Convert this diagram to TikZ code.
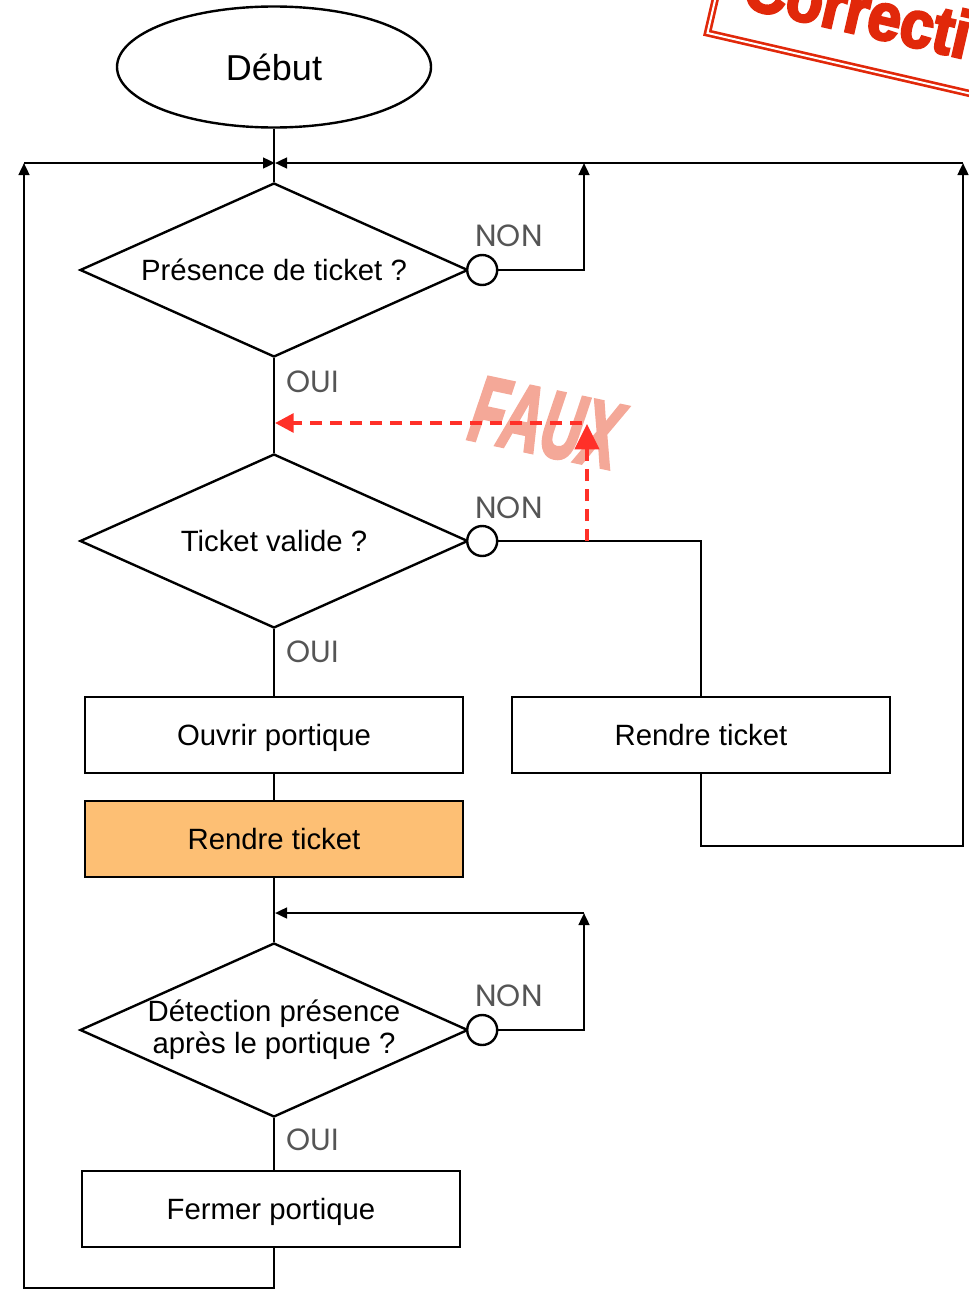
\documentclass[tikz,border=0pt]{standalone}
\usepackage{fontspec}
\setmainfont{Liberation Sans}
\newfontfamily\reponsefont{Poppins}
\newfontfamily\grasfont{Liberation Sans}[FakeBold=4]
\usetikzlibrary{shapes.geometric,positioning,arrows.meta}

\definecolor{orangeclair}{RGB}{253,191,116}
\definecolor{rougefaux}{RGB}{255,48,40}
\definecolor{saumon}{RGB}{244,168,152}
\definecolor{rougetampon}{RGB}{225,40,10}
\definecolor{grisreponse}{RGB}{85,85,85}

\begin{document}
\begin{tikzpicture}[x=0.75pt,y=-0.75pt,
            line width=1.8pt,
            every node/.style={font=\fontsize{22pt}{24pt}\selectfont},
            debutfin/.style={draw,ellipse,minimum width=235.5pt,minimum height=90.75pt},
            test/.style={draw,diamond,aspect=2.23,inner sep=0pt,minimum width=291pt,minimum height=130.5pt},
            action/.style={draw,rectangle,text height=16pt,text depth=0pt,minimum width=283.5pt,minimum height=57pt},
            rond/.style={draw,circle,fill=white,inner sep=0pt,minimum size=22.5pt},
            reponse/.style={text=grisreponse,font=\reponsefont\fontsize{23pt}{25pt}\selectfont},
            fleche/.style={-{Triangle[length=9pt,width=8pt]}},
            faux/.style={rougefaux,line width=3pt,dash pattern=on 9pt off 6pt},
            ]
    \useasboundingbox (0,0) rectangle (968,1295);

    % le tampon en haut a droite
    \node[draw=rougetampon,double,double distance=1.5pt,line width=2pt,text=rougetampon,
          font=\grasfont\fontsize{50pt}{50pt}\selectfont\bfseries,inner xsep=22pt,inner ysep=24pt,
          anchor=south west,rotate=-13,xscale=0.9] (tampon) at (706,34) {Correction};

    \node[debutfin,font=\fontsize{27pt}{30pt}\selectfont] (debut) at (274,67) {Début};
    \node[test] (d1) at (274,270) {Présence de ticket ?};
    \node[rond,right=-2.4pt of d1] (c1) {};
    \node[test] (d2) at (274,541) {Ticket valide ?};
    \node[rond,right=-2.4pt of d2] (c2) {};
    \node[action] (ouvrir) at (274,735) {Ouvrir portique};
    \node[action,fill=orangeclair] (rendre1) at (274,839) {Rendre ticket};
    \node[action] (rendre2) at (701,735) {Rendre ticket};
    \node[test,align=center] (d3) at (274,1030) {Détection présence\\après le portique ?};
    \node[rond,right=-2.4pt of d3] (c3) {};
    \node[action] (fermer) at (271,1209) {Fermer portique};

    \node[reponse] (non1) at (509,236) {NON};
    \node[reponse] (oui1) at (313,382) {OUI};
    \node[reponse] (non2) at (509,508) {NON};
    \node[reponse] (oui2) at (313,652) {OUI};
    \node[reponse] (non3) at (509,996) {NON};
    \node[reponse] (oui3) at (313,1140) {OUI};

    \coordinate (j1) at (275,163);
    \coordinate (gauche) at (24,163);
    \coordinate (droite) at (963,163);
    \coordinate (r1) at (584,163);
    \coordinate (j3) at (275,913);
    \coordinate (r3) at (584,913);
    \coordinate (coin2) at (963,846);
    \coordinate (coin3) at (24,1288);

    \draw (debut) -- (d1);
    \draw (d1) -- (d2);
    \draw (d2) -- (ouvrir);
    \draw (ouvrir) -- (rendre1);
    \draw (rendre1) -- (d3);
    \draw (d3) -- (d3 |- fermer.north);
    \draw[fleche] (d3.south |- fermer.south) |- (coin3) -- (gauche);
    \draw[fleche] (gauche) -- (j1);
    \draw[fleche] (c1) -| (r1);
    \draw[fleche] (droite) -- (j1);
    \draw (c2) -| (rendre2);
    \draw[fleche] (rendre2) |- (coin2) -- (droite);
    \draw[fleche] (c3) -| (r3);
    \draw[fleche] (r3) -- (j3);

    % la fausse fleche
    \node[text=saumon,font=\grasfont\fontsize{70pt}{70pt}\selectfont\bfseries\itshape,rotate=-12,xscale=0.6] (fauxtexte) at (546,423) {FAUX};
    \coordinate (fauxbas) at (587,541);
    \coordinate (fauxhaut) at (587,424);
    \coordinate (fauxdepart) at (582,423);
    \coordinate (fauxcible) at (275,423);
    \draw[faux,-{Triangle[length=19pt,width=18pt]}] (fauxbas) -- (fauxhaut);
    \draw[faux,-{Triangle[length=14pt,width=14pt]}] (fauxdepart) -- (fauxcible);
\end{tikzpicture}
\end{document}
